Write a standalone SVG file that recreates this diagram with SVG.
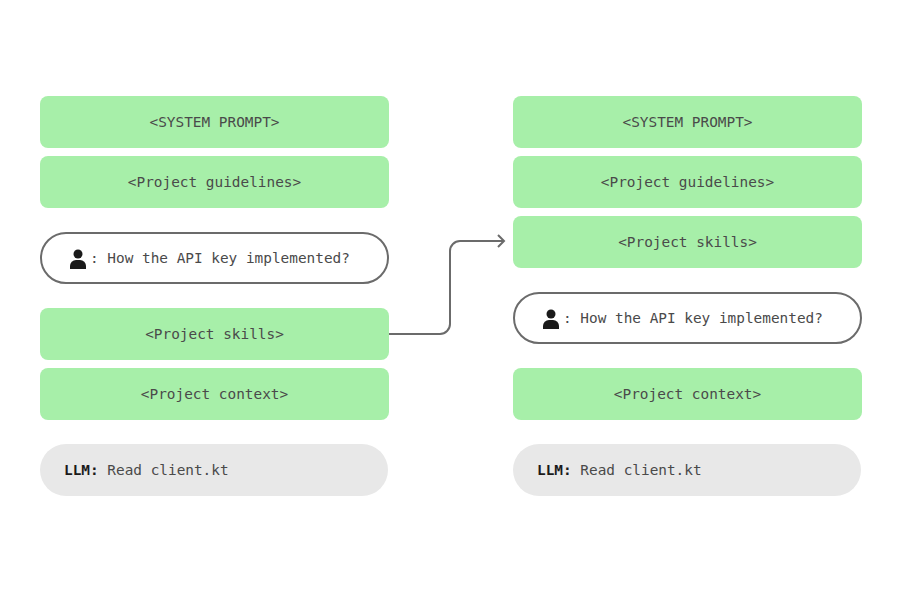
<svg xmlns="http://www.w3.org/2000/svg" width="901" height="592" viewBox="0 0 901 592">
<style>
.g{fill:#a7efa9}
.u{fill:#fff;stroke:#6b6b6b;stroke-width:2}
.l{fill:#e8e8e8}
text{font-family:"DejaVu Sans Mono","Liberation Mono",monospace;font-size:14.4px;fill:#4a4a4a}
.c{text-anchor:middle}
.b{font-weight:bold;fill:#1a1a1a}
.w{fill:none;stroke:#6b6b6b;stroke-width:2}
</style>
<defs>
<g id="user"><circle cx="0" cy="-6" r="4.5" fill="#1a1a1a"/><path d="M-8,9 v-3 a6,6 0 0 1 6,-6 h4 a6,6 0 0 1 6,6 v3 z" fill="#1a1a1a"/></g>
</defs>
<rect width="901" height="592" fill="#fff"/>
<g id="left">
<g id="l1"><rect class="g" x="40" y="96" width="349" height="52" rx="8"/><text class="c" x="214.5" y="127">&lt;SYSTEM PROMPT&gt;</text></g>
<g id="l2"><rect class="g" x="40" y="156" width="349" height="52" rx="8"/><text class="c" x="214.5" y="187">&lt;Project guidelines&gt;</text></g>
<g id="l3"><rect class="u" x="41" y="233" width="347" height="50" rx="25"/><use href="#user" x="78" y="260"/><text x="90" y="263">: How the API key implemented?</text></g>
<g id="l4"><rect class="g" x="40" y="308" width="349" height="52" rx="8"/><text class="c" x="214.5" y="339">&lt;Project skills&gt;</text></g>
<g id="l5"><rect class="g" x="40" y="368" width="349" height="52" rx="8"/><text class="c" x="214.5" y="399">&lt;Project context&gt;</text></g>
<g id="l6"><rect class="l" x="40" y="444" width="348" height="52" rx="26"/><text x="64" y="475"><tspan class="b">LLM:</tspan> Read client.kt</text></g>
</g>
<g id="right">
<g id="r1"><rect class="g" x="513" y="96" width="349" height="52" rx="8"/><text class="c" x="687.5" y="127">&lt;SYSTEM PROMPT&gt;</text></g>
<g id="r2"><rect class="g" x="513" y="156" width="349" height="52" rx="8"/><text class="c" x="687.5" y="187">&lt;Project guidelines&gt;</text></g>
<g id="r3"><rect class="g" x="513" y="216" width="349" height="52" rx="8"/><text class="c" x="687.5" y="247">&lt;Project skills&gt;</text></g>
<g id="r4"><rect class="u" x="514" y="293" width="347" height="50" rx="25"/><use href="#user" x="551" y="320"/><text x="563" y="323">: How the API key implemented?</text></g>
<g id="r5"><rect class="g" x="513" y="368" width="349" height="52" rx="8"/><text class="c" x="687.5" y="399">&lt;Project context&gt;</text></g>
<g id="r6"><rect class="l" x="513" y="444" width="348" height="52" rx="26"/><text x="537" y="475"><tspan class="b">LLM:</tspan> Read client.kt</text></g>
</g>
<g id="connectors">
<path class="w" d="M389,334 H440 a10,10 0 0 0 10,-10 V251 a10,10 0 0 1 10,-10 H504"/>
<path class="w" d="M498,235 L504,241 L498,247"/>
</g>
</svg>
